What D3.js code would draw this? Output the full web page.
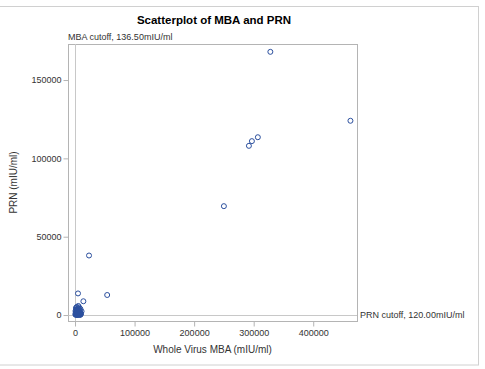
<!DOCTYPE html>
<html>
<head>
<meta charset="utf-8">
<script src="https://cdn.jsdelivr.net/npm/d3@7"></script>
<style>
  body { margin: 0; background: #fff; }
  text { font-family: "Liberation Sans", Arial, sans-serif; fill: #333; }
</style>
</head>
<body>
<script>
// values (mIU/ml)
var mba = [328000, 462500, 307000, 297000, 292000, 250000, 23500, 54000, 5000, 14000,
  5500, 3000, 7000, 1500, 9000, 4000, 2500, 6000, 800, 11000,
  3500, 5000, 2000, 8000, 1000, 6500, 4500, 10000, 3000, 7500,
  1200, 5200, 2200, 9500, 600, 4200, 6200, 3300, 8500, 1800,
  4800, 6800, 2800, 5800, 3800, 7200, 1600, 8800, 4400, 6400,
  2600, 5600, 3600, 7800, 2400, 9200, 4600, 3100, 5400, 6900];
var prn = [168000, 124000, 113500, 111000, 108000, 69500, 38000, 12800, 13800, 8800,
  5800, 5200, 4800, 4500, 3900, 3600, 3200, 2900, 2600, 2400,
  2100, 1900, 1700, 1500, 1300, 1200, 1000, 900, 800, 700,
  600, 500, 400, 350, 300, 250, 200, 150, 100, 80,
  4200, 3700, 3300, 2800, 2500, 2200, 2000, 1800, 1600, 1400,
  1100, 950, 850, 750, 650, 550, 450, 380, 320, 280];
var xTicks = [0, 100000, 200000, 300000, 400000];
var yTicks = [0, 50000, 100000, 150000];
var mbaCutoff = 136.5, prnCutoff = 120;

var W = 485, H = 369;
var margin = {top: 44, right: 128, bottom: 48, left: 68},
	width = W - margin.left - margin.right,
	height = H - margin.top - margin.bottom;

var svg = d3.select("body").append("svg")
	.attr("width", W)
	.attr("height", H);

// outer border
svg.append("rect")
	.attr("x", -1).attr("y", 6.5)
	.attr("width", 479.5).attr("height", 358.5)
	.attr("fill", "none").attr("stroke", "#d0d0d0");

svg.append("text")
	.attr("x", 214).attr("y", 24)
	.attr("text-anchor", "middle")
	.style("font-size", "11.5px").style("font-weight", "bold").style("fill", "#000")
	.text("Scatterplot of MBA and PRN");

var g = svg.append("g")
	.attr("transform", "translate(" + margin.left + "," + margin.top + ")");

var x = d3.scaleLinear().domain([-11800, 473500]).range([0, width]);
var y = d3.scaleLinear().domain([-3800, 173000]).range([height, 0]);

// frame
g.append("rect")
	.attr("x", 0.5).attr("y", 0.5)
	.attr("width", width).attr("height", height)
	.attr("fill", "none").attr("stroke", "#b4b4b4");

// cutoff lines
g.append("line")
	.attr("x1", Math.round(x(mbaCutoff)) + 0.5).attr("x2", Math.round(x(mbaCutoff)) + 0.5)
	.attr("y1", 0).attr("y2", height)
	.attr("stroke", "#c8c8c8");
g.append("line")
	.attr("x1", 0).attr("x2", width)
	.attr("y1", Math.round(y(prnCutoff)) + 0.5).attr("y2", Math.round(y(prnCutoff)) + 0.5)
	.attr("stroke", "#c8c8c8");

svg.append("text")
	.attr("x", margin.left).attr("y", 40)
	.style("font-size", "9px")
	.text("MBA cutoff, " + mbaCutoff.toFixed(2) + "mIU/ml");
svg.append("text")
	.attr("x", margin.left + width + 3).attr("y", margin.top + y(prnCutoff) + 3)
	.style("font-size", "9px")
	.text("PRN cutoff, " + prnCutoff.toFixed(2) + "mIU/ml");

// axes
var xAxis = g.append("g")
	.attr("transform", "translate(0," + (height + 0.5) + ")")
	.call(d3.axisBottom(x).tickValues(xTicks).tickFormat(d3.format("d")).tickSize(5).tickPadding(3));
var yAxis = g.append("g")
	.attr("transform", "translate(0.5,0)")
	.call(d3.axisLeft(y).tickValues(yTicks).tickFormat(d3.format("d")).tickSize(5).tickPadding(2));
[xAxis, yAxis].forEach(function(a) {
	a.select(".domain").remove();
	a.selectAll(".tick line").attr("stroke", "#b4b4b4");
	a.selectAll(".tick text").style("font-size", "9px").style("fill", "#333")
		.style("font-family", "'Liberation Sans', Arial, sans-serif");
});

svg.append("text")
	.attr("x", margin.left + width / 2).attr("y", 353)
	.attr("text-anchor", "middle")
	.style("font-size", "10px")
	.text("Whole Virus MBA (mIU/ml)");
svg.append("text")
	.attr("transform", "translate(17," + (margin.top + height / 2) + ") rotate(-90)")
	.attr("text-anchor", "middle")
	.style("font-size", "10px")
	.text("PRN (mIU/ml)");

// points
g.selectAll("circle")
	.data(mba.map(function(d, i) { return [d, prn[i]]; }))
	.enter()
	.append("circle")
	.attr("cx", function(d) { return x(d[0]); })
	.attr("cy", function(d) { return y(d[1]); })
	.attr("r", 2.5)
	.attr("fill", "none")
	.attr("stroke", "#2b4f9e")
	.attr("stroke-width", 1);
</script>
</body>
</html>
